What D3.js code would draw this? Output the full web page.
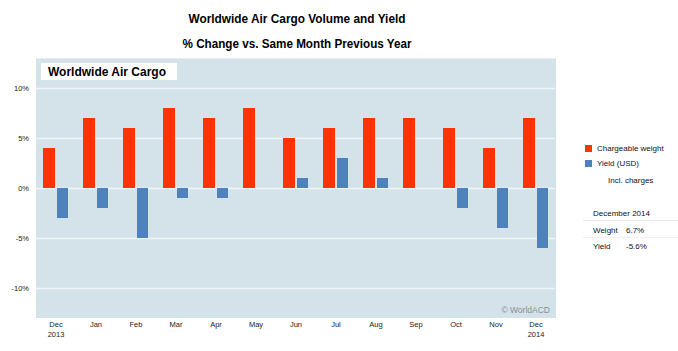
<!DOCTYPE html>
<html>
<head>
<meta charset="utf-8">
<script src="https://cdn.jsdelivr.net/npm/d3@7"></script>
<style>
body{margin:0;background:#fff;}
svg{display:block;}
text{font-family:"Liberation Sans", Arial, sans-serif;}
</style>
</head>
<body>
<svg id="c" width="678" height="351"></svg>
<script>
const months = ["Dec","Jan","Feb","Mar","Apr","May","Jun","Jul","Aug","Sep","Oct","Nov","Dec "];
const years = ["2013","","","","","","","","","","","","2014"];
const weight = [4,7,6,8,7,8,5,6,7,7,6,4,7];
const yieldUSD = [-3,-2,-5,-1,-1,0,1,3,1,0,-2,-4,-6];
const yTicks = [10,5,0,-5,-10];
const yTickLabels = ["10%","5%","0%","-5%","-10%"];

const svg = d3.select("#c");
const red = "#ff3300", blue = "#4f81bd";

const x = d3.scaleBand().domain(months).range([36,556]).padding(0);
const y = d3.scaleLinear().domain([-13,13]).range([318,58]);

// panel
svg.append("rect").attr("x",36).attr("y",58).attr("width",520).attr("height",260).attr("fill","#d4e2ea");
svg.append("rect").attr("x",36).attr("y",58).attr("width",520).attr("height",1).attr("fill","#e2ecf1");

// gridlines
svg.append("g").selectAll("line").data(yTicks).join("line")
  .attr("x1",36).attr("x2",555)
  .attr("y1",d=>Math.round(y(d))+0.5).attr("y2",d=>Math.round(y(d))+0.5)
  .attr("stroke","#eef4f7").attr("stroke-width",1.5);

// title box
svg.append("rect").attr("x",41).attr("y",63).attr("width",136).attr("height",17).attr("fill","#fff");
svg.append("text").attr("x",48).attr("y",76).attr("font-size",12).attr("font-weight","bold").attr("fill","#000").text("Worldwide Air Cargo");

// bars
const g = svg.append("g");
g.selectAll("rect.w").data(weight).join("rect").attr("class","w")
  .attr("x",(d,i)=>x(months[i])+x.bandwidth()/2-13)
  .attr("width",12)
  .attr("y",d=>y(Math.max(0,d)))
  .attr("height",d=>Math.abs(y(d)-y(0)))
  .attr("fill",red);
g.selectAll("rect.y").data(yieldUSD).join("rect").attr("class","y")
  .attr("x",(d,i)=>x(months[i])+x.bandwidth()/2+1)
  .attr("width",11)
  .attr("y",d=>y(Math.max(0,d)))
  .attr("height",d=>Math.abs(y(d)-y(0)))
  .attr("fill",blue);

// y axis
const yAxis = d3.axisLeft(y).tickValues(yTicks).tickSize(0).tickPadding(0)
  .tickFormat((d,i)=>yTickLabels[i]);
const ya = svg.append("g").attr("transform","translate(29,0)").call(yAxis);
ya.select(".domain").remove();
ya.selectAll("text").attr("font-size",7.5).attr("fill","#222").attr("font-family","Liberation Sans, Arial, sans-serif");

// x axis
const xAxis = d3.axisBottom(x).tickSize(0).tickPadding(0).tickFormat(d=>d.trim());
const xa = svg.append("g").attr("transform","translate(0,322)").call(xAxis);
xa.select(".domain").remove();
xa.selectAll("text").attr("font-size",7.5).attr("fill","#222").attr("font-family","Liberation Sans, Arial, sans-serif")
  .each(function(d,i){
    const yr = years[i];
    if(yr){
      d3.select(this).append("tspan").attr("x",0).attr("dy","1.3em").text(yr);
    }
  });

// watermark
svg.append("text").attr("x",550).attr("y",313).attr("text-anchor","end").attr("font-size",8.5).attr("fill","#8a8f93").text("© WorldACD");

// titles
svg.append("text").attr("x",297).attr("y",23).attr("text-anchor","middle").attr("font-size",12.5).attr("font-weight","bold")
  .attr("font-family","'Liberation Sans Narrow', 'Arial Narrow', Arial, sans-serif").attr("textLength",217).attr("lengthAdjust","spacingAndGlyphs").text("Worldwide Air Cargo Volume and Yield");
svg.append("text").attr("x",297).attr("y",48).attr("text-anchor","middle").attr("font-size",12.5).attr("font-weight","bold")
  .attr("font-family","'Liberation Sans Narrow', 'Arial Narrow', Arial, sans-serif").attr("textLength",229).attr("lengthAdjust","spacingAndGlyphs").text("% Change vs. Same Month Previous Year");

// legend
const leg = svg.append("g");
const fs = 8;
leg.append("rect").attr("x",585).attr("y",145).attr("width",7).attr("height",7).attr("fill",red);
leg.append("text").attr("x",597).attr("y",151).attr("font-size",fs).attr("fill","#111").text("Chargeable weight");
leg.append("rect").attr("x",585).attr("y",160).attr("width",7).attr("height",7).attr("fill",blue);
leg.append("text").attr("x",597).attr("y",166).attr("font-size",fs).attr("fill","#111").text("Yield (USD)");
leg.append("text").attr("x",608).attr("y",183).attr("font-size",fs).attr("fill","#111").text("Incl. charges");
leg.append("text").attr("x",593).attr("y",216).attr("font-size",fs).attr("fill","#111").text("December 2014");
leg.append("line").attr("x1",583).attr("x2",678).attr("y1",220.5).attr("y2",220.5).attr("stroke","#e6e6e6");
leg.append("text").attr("x",593).attr("y",233).attr("font-size",fs).attr("fill","#111").text("Weight");
leg.append("text").attr("x",626).attr("y",233).attr("font-size",fs).attr("fill","#111").text("6.7%");
leg.append("line").attr("x1",583).attr("x2",678).attr("y1",237.5).attr("y2",237.5).attr("stroke","#f0f0f0");
leg.append("text").attr("x",593).attr("y",249).attr("font-size",fs).attr("fill","#111").text("Yield");
leg.append("text").attr("x",626).attr("y",249).attr("font-size",fs).attr("fill","#111").text("-5.6%");
</script>
</body>
</html>
